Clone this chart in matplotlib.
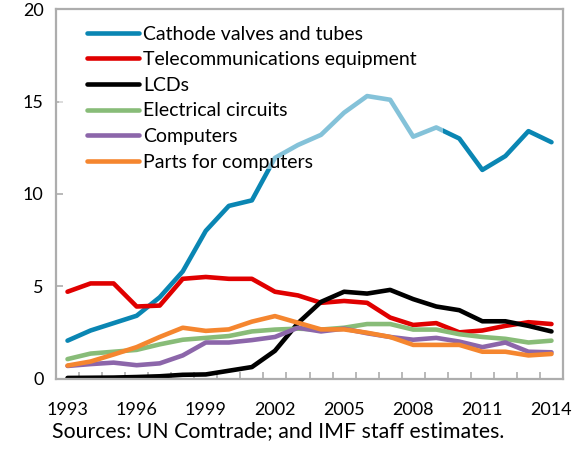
import matplotlib
matplotlib.use("Agg")
import matplotlib.pyplot as plt
from matplotlib.patches import Rectangle
import numpy as np

plt.rcParams['font.family'] = ['Lato', 'DejaVu Sans']

years = list(range(1993, 2015))

cathode = [2.05, 2.6, 3.0, 3.4, 4.4, 5.8, 8.0, 9.35, 9.65, 11.95, 12.65, 13.2, 14.4,
           15.3, 15.1, 13.1, 13.6, 13.0, 11.3, 12.05, 13.4, 12.8]
telecom = [4.7, 5.15, 5.15, 3.9, 3.95, 5.4, 5.5, 5.4, 5.4, 4.7, 4.5, 4.1, 4.2,
           4.1, 3.3, 2.9, 3.0, 2.5, 2.6, 2.85, 3.05, 2.95]
lcds = [0.03, 0.04, 0.05, 0.08, 0.12, 0.2, 0.22, 0.42, 0.62, 1.5, 3.0, 4.15, 4.7,
        4.6, 4.8, 4.3, 3.9, 3.7, 3.1, 3.1, 2.85, 2.55]
circuits = [1.05, 1.35, 1.45, 1.55, 1.85, 2.1, 2.2, 2.3, 2.55, 2.65, 2.7, 2.65, 2.75,
            2.95, 2.95, 2.65, 2.65, 2.4, 2.25, 2.15, 1.95, 2.05]
computers = [0.68, 0.78, 0.86, 0.72, 0.82, 1.25, 1.95, 1.95, 2.08, 2.25, 2.75, 2.55, 2.7,
             2.45, 2.25, 2.1, 2.2, 2.0, 1.7, 1.95, 1.45, 1.42]
parts = [0.7, 0.92, 1.3, 1.7, 2.25, 2.75, 2.58, 2.66, 3.08, 3.38, 3.02, 2.66, 2.66,
         2.48, 2.25, 1.82, 1.82, 1.82, 1.45, 1.45, 1.25, 1.33]

series_names = ["Cathode valves and tubes", "Telecommunications equipment", "LCDs",
                "Electrical circuits", "Computers", "Parts for computers"]
series_values = [cathode, telecom, lcds, circuits, computers, parts]
colors = ["#0A86B3", "#E00000", "#000000", "#88BC78", "#8C66AA", "#F5862F"]

label_years = years[::3]
y_ticks = [0, 5, 10, 15, 20]
source_text = "Sources: UN Comtrade; and IMF staff estimates."

fig = plt.figure(figsize=(5.78, 4.51), dpi=100)
ax = fig.add_axes([56/578, (451-378.5)/451, 507/578, 369.2/451])

for name, vals, c in zip(series_names, series_values, colors):
    ax.plot(years, vals, color=c, lw=3.3, label=name,
            solid_capstyle='round', solid_joinstyle='round')

ax.set_xlim(1992.5, 2014.5)
ax.set_ylim(0, 20)

gray = "#ADADAD"
for s in ax.spines.values():
    s.set_color(gray)
    s.set_linewidth(1.6)
    s.set_zorder(4)

ax.set_yticks(y_ticks)
ax.set_yticklabels([str(v) for v in y_ticks])
ax.tick_params(axis='y', direction='in', length=5, width=1.2, color=gray,
               labelsize=13, pad=9)
ax.set_xticks(label_years)
ax.set_xticklabels([str(y) for y in label_years])
ax.tick_params(axis='x', which='major', length=0, labelsize=13, pad=17)
ax.set_xticks([y + 0.5 for y in years[:-1]], minor=True)
ax.tick_params(axis='x', which='minor', direction='in', length=5, width=1.2, color=gray)

# semi-transparent legend backdrop
ax.add_patch(Rectangle((0.005, 0.567), 0.759, 0.43, transform=ax.transAxes,
                       facecolor='white', alpha=0.5, edgecolor='none', zorder=3))

leg = ax.legend(loc='upper left', bbox_to_anchor=(0.0605, 0.9555), frameon=False,
                fontsize=14, handlelength=2.67, handletextpad=0.25, labelspacing=0.44,
                borderpad=0, borderaxespad=0)
leg.set_zorder(5)

fig.text(52/578, 14/451, source_text, fontsize=15.3, ha='left', va='baseline')

fig.savefig("out.png", dpi=100)
